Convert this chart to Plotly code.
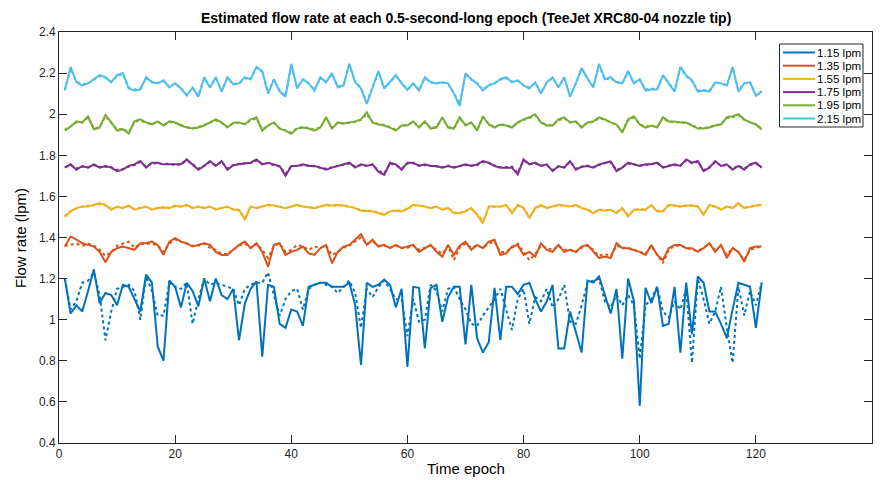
import plotly.graph_objects as go

epochs = list(range(1, 122))

labels = ["1.15 lpm", "1.35 lpm", "1.55 lpm", "1.75 lpm", "1.95 lpm", "2.15 lpm"]
colors = ["#0072BD", "#D95319", "#EDB120", "#7E2F8E", "#77AC30", "#4DBEEE"]

blue_est = [1.20, 1.03, 1.07, 1.04, 1.14, 1.245, 1.08, 1.13, 1.12, 1.07,
            1.17, 1.16, 1.10, 1.04, 1.22, 1.18, 0.87, 0.80, 1.19, 1.16,
            1.06, 1.18, 1.14, 1.065, 1.20, 1.09, 1.20, 1.12, 1.10, 1.15,
            0.90, 1.08, 1.15, 1.187, 0.82, 1.17, 1.16, 0.98, 0.96, 1.05,
            1.04, 0.97, 1.16, 1.17, 1.18, 1.18, 1.16, 1.16, 1.16, 1.18,
            1.07, 0.78, 1.18, 1.16, 1.17, 1.195, 1.17, 1.06, 1.15, 0.77,
            1.16, 1.155, 0.86, 1.155, 1.17, 0.99, 1.11, 1.16, 1.16, 0.88,
            1.17, 0.91, 0.84, 0.89, 1.155, 0.90, 1.16, 1.16, 1.125, 1.17,
            1.18, 1.10, 1.04, 1.09, 1.17, 0.86, 0.86, 1.04, 0.94, 0.84,
            1.19, 1.18, 1.21, 1.12, 1.03, 1.15, 0.81, 1.20, 1.09, 0.58,
            1.155, 1.08, 1.16, 0.97, 0.98, 1.16, 0.84, 1.18, 0.93, 1.21,
            1.18, 1.04, 1.04, 0.98, 0.91, 1.05, 1.18, 1.17, 1.16, 0.96, 1.18]
blue_ref = [1.20, 1.05, 1.09, 1.18, 1.19, 1.23, 1.12, 0.90, 1.04, 1.15,
            1.16, 1.17, 1.14, 1.00, 1.21, 1.14, 1.02, 1.02, 1.18, 1.16,
            1.15, 1.18, 0.98, 1.10, 1.20, 1.17, 1.18, 1.17, 1.16, 1.15,
            1.07, 1.15, 1.17, 1.18, 1.18, 1.23, 1.12, 1.02, 1.10, 1.14,
            1.15, 1.05, 1.15, 1.17, 1.18, 1.17, 1.16, 1.13, 1.16, 1.19,
            1.13, 0.96, 1.15, 1.11, 1.16, 1.19, 1.15, 1.10, 1.10, 0.92,
            1.10, 0.99, 1.00, 1.17, 1.14, 1.04, 1.15, 1.16, 1.10, 1.05,
            0.98, 0.97, 1.02, 1.06, 1.10, 1.15, 1.05, 0.95, 1.10, 1.15,
            0.98, 1.11, 1.09, 1.15, 1.06, 1.10, 1.17, 0.99, 0.98, 1.07,
            1.18, 1.19, 1.20, 1.09, 1.06, 1.12, 1.07, 1.12, 1.07, 0.81,
            1.07, 1.10, 1.16, 1.04, 1.01, 1.09, 1.05, 1.15, 0.79, 1.20,
            1.10, 0.98, 1.04, 1.16, 0.96, 0.79, 1.16, 1.02, 1.14, 1.07, 1.18]

red_est = [1.356, 1.405, 1.39, 1.372, 1.364, 1.356, 1.33, 1.28, 1.33, 1.348,
           1.356, 1.348, 1.34, 1.372, 1.372, 1.38, 1.364, 1.315, 1.38, 1.397,
           1.38, 1.372, 1.356, 1.364, 1.372, 1.364, 1.33, 1.315, 1.315, 1.34,
           1.364, 1.38, 1.348, 1.372, 1.33, 1.258, 1.364, 1.372, 1.315, 1.33,
           1.34, 1.356, 1.323, 1.315, 1.348, 1.364, 1.275, 1.33, 1.356, 1.364,
           1.389, 1.416, 1.364, 1.389, 1.356, 1.364, 1.348, 1.364, 1.348, 1.356,
           1.364, 1.33, 1.348, 1.364, 1.33, 1.307, 1.364, 1.315, 1.36, 1.38,
           1.34, 1.364, 1.348, 1.38, 1.389, 1.315, 1.323, 1.356, 1.364, 1.315,
           1.33, 1.307, 1.372, 1.34, 1.33, 1.364, 1.33, 1.34, 1.33, 1.356,
           1.364, 1.33, 1.30, 1.307, 1.30, 1.372, 1.348, 1.348, 1.34, 1.33,
           1.315, 1.364, 1.315, 1.29, 1.348, 1.364, 1.364, 1.348, 1.348, 1.33,
           1.348, 1.372, 1.33, 1.364, 1.30, 1.348, 1.33, 1.282, 1.348, 1.356, 1.356]
red_ref = [1.36, 1.365, 1.37, 1.36, 1.37, 1.36, 1.34, 1.31, 1.33, 1.36,
           1.37, 1.38, 1.35, 1.37, 1.37, 1.37, 1.36, 1.33, 1.37, 1.39,
           1.38, 1.37, 1.36, 1.36, 1.37, 1.35, 1.34, 1.32, 1.32, 1.34,
           1.36, 1.37, 1.35, 1.37, 1.34, 1.30, 1.36, 1.37, 1.33, 1.34,
           1.364, 1.356, 1.34, 1.356, 1.35, 1.36, 1.315, 1.33, 1.35, 1.36,
           1.38, 1.40, 1.37, 1.38, 1.36, 1.36, 1.35, 1.36, 1.35, 1.35,
           1.36, 1.34, 1.35, 1.36, 1.34, 1.32, 1.36, 1.29, 1.35, 1.37,
           1.35, 1.36, 1.35, 1.37, 1.38, 1.33, 1.33, 1.35, 1.37, 1.33,
           1.29, 1.32, 1.36, 1.35, 1.34, 1.36, 1.34, 1.34, 1.33, 1.35,
           1.36, 1.34, 1.31, 1.32, 1.31, 1.36, 1.35, 1.35, 1.34, 1.33,
           1.32, 1.36, 1.32, 1.275, 1.34, 1.36, 1.36, 1.35, 1.34, 1.335,
           1.35, 1.37, 1.34, 1.36, 1.315, 1.35, 1.33, 1.29, 1.34, 1.35, 1.355]

yellow_est = [1.50, 1.527, 1.543, 1.551, 1.551, 1.559, 1.567, 1.559, 1.535, 1.551,
              1.543, 1.556, 1.535, 1.543, 1.551, 1.535, 1.543, 1.546, 1.543, 1.556,
              1.551, 1.559, 1.543, 1.551, 1.543, 1.551, 1.535, 1.543, 1.551, 1.535,
              1.535, 1.486, 1.551, 1.543, 1.551, 1.559, 1.556, 1.551, 1.543, 1.551,
              1.559, 1.551, 1.546, 1.543, 1.551, 1.559, 1.556, 1.559, 1.556, 1.551,
              1.543, 1.53, 1.527, 1.527, 1.518, 1.51, 1.527, 1.53, 1.527, 1.54,
              1.559, 1.556, 1.551, 1.543, 1.551, 1.535, 1.543, 1.518, 1.518, 1.527,
              1.543, 1.51, 1.47, 1.551, 1.551, 1.551, 1.559, 1.518, 1.559, 1.543,
              1.494, 1.543, 1.559, 1.543, 1.551, 1.559, 1.556, 1.551, 1.559, 1.543,
              1.535, 1.518, 1.535, 1.53, 1.535, 1.518, 1.543, 1.502, 1.535, 1.535,
              1.535, 1.559, 1.527, 1.527, 1.559, 1.556, 1.551, 1.556, 1.556, 1.551,
              1.51, 1.559, 1.551, 1.535, 1.551, 1.543, 1.567, 1.543, 1.551, 1.556, 1.559]
yellow_ref = [1.505, 1.53, 1.54, 1.55, 1.555, 1.56, 1.562, 1.555, 1.54, 1.548,
              1.545, 1.553, 1.538, 1.545, 1.548, 1.538, 1.545, 1.548, 1.545, 1.553,
              1.55, 1.556, 1.545, 1.55, 1.545, 1.55, 1.538, 1.545, 1.548, 1.538,
              1.533, 1.495, 1.548, 1.545, 1.55, 1.556, 1.555, 1.55, 1.545, 1.55,
              1.556, 1.55, 1.548, 1.545, 1.55, 1.556, 1.555, 1.556, 1.555, 1.55,
              1.545, 1.533, 1.53, 1.53, 1.522, 1.515, 1.527, 1.533, 1.53, 1.538,
              1.556, 1.555, 1.55, 1.545, 1.548, 1.538, 1.545, 1.522, 1.52, 1.53,
              1.54, 1.515, 1.48, 1.545, 1.55, 1.55, 1.556, 1.525, 1.555, 1.545,
              1.50, 1.54, 1.556, 1.545, 1.55, 1.556, 1.555, 1.55, 1.556, 1.545,
              1.538, 1.522, 1.535, 1.533, 1.535, 1.522, 1.54, 1.51, 1.535, 1.538,
              1.538, 1.556, 1.53, 1.53, 1.556, 1.555, 1.55, 1.555, 1.555, 1.55,
              1.515, 1.556, 1.55, 1.538, 1.55, 1.545, 1.562, 1.545, 1.55, 1.555, 1.556]

purple_est = [1.74, 1.756, 1.73, 1.748, 1.74, 1.756, 1.74, 1.748, 1.74, 1.723,
              1.73, 1.748, 1.756, 1.772, 1.74, 1.764, 1.764, 1.756, 1.756, 1.756,
              1.756, 1.78, 1.756, 1.73, 1.748, 1.772, 1.748, 1.772, 1.73, 1.752,
              1.756, 1.76, 1.764, 1.78, 1.756, 1.764, 1.756, 1.748, 1.70, 1.748,
              1.748, 1.756, 1.748, 1.748, 1.74, 1.73, 1.74, 1.748, 1.756, 1.764,
              1.74, 1.756, 1.748, 1.756, 1.72, 1.705, 1.764, 1.756, 1.73, 1.764,
              1.764, 1.748, 1.756, 1.748, 1.748, 1.74, 1.748, 1.74, 1.748, 1.756,
              1.748, 1.756, 1.772, 1.764, 1.748, 1.74, 1.74, 1.74, 1.707, 1.78,
              1.756, 1.764, 1.748, 1.756, 1.723, 1.748, 1.74, 1.772, 1.73, 1.744,
              1.748, 1.74, 1.756, 1.764, 1.77, 1.723, 1.74, 1.764, 1.756, 1.748,
              1.756, 1.756, 1.764, 1.74, 1.748, 1.756, 1.748, 1.78, 1.764, 1.772,
              1.723, 1.74, 1.772, 1.748, 1.756, 1.73, 1.748, 1.73, 1.756, 1.764, 1.74]
purple_ref = [1.742, 1.752, 1.735, 1.745, 1.742, 1.752, 1.742, 1.745, 1.742, 1.728,
              1.733, 1.745, 1.752, 1.768, 1.745, 1.76, 1.762, 1.756, 1.76, 1.752,
              1.756, 1.775, 1.758, 1.735, 1.748, 1.768, 1.75, 1.768, 1.735, 1.752,
              1.758, 1.762, 1.762, 1.775, 1.758, 1.762, 1.752, 1.745, 1.71, 1.745,
              1.75, 1.752, 1.75, 1.745, 1.742, 1.735, 1.742, 1.748, 1.752, 1.76,
              1.745, 1.752, 1.75, 1.755, 1.725, 1.712, 1.76, 1.752, 1.735, 1.76,
              1.762, 1.75, 1.752, 1.75, 1.745, 1.742, 1.75, 1.742, 1.748, 1.752,
              1.75, 1.752, 1.768, 1.762, 1.75, 1.742, 1.742, 1.745, 1.715, 1.775,
              1.758, 1.76, 1.75, 1.752, 1.728, 1.745, 1.742, 1.768, 1.735, 1.745,
              1.75, 1.742, 1.752, 1.762, 1.766, 1.728, 1.742, 1.76, 1.756, 1.75,
              1.752, 1.758, 1.762, 1.742, 1.75, 1.752, 1.75, 1.775, 1.762, 1.768,
              1.728, 1.742, 1.768, 1.75, 1.752, 1.735, 1.75, 1.735, 1.752, 1.76, 1.742]

green_est = [1.92, 1.94, 1.965, 1.96, 1.99, 1.927, 1.935, 1.997, 1.96, 1.92,
             1.927, 1.906, 1.965, 1.975, 1.96, 1.95, 1.965, 1.945, 1.965, 1.96,
             1.945, 1.935, 1.93, 1.935, 1.945, 1.96, 1.975, 1.96, 1.935, 1.958,
             1.96, 1.95, 1.975, 1.985, 1.92, 1.945, 1.96, 1.93, 1.92, 1.905,
             1.93, 1.935, 1.93, 1.92, 1.935, 1.985, 1.93, 1.96, 1.955, 1.96,
             1.965, 1.975, 2.01, 1.96, 1.95, 1.945, 1.935, 1.92, 1.945, 1.945,
             1.965, 1.935, 1.965, 1.93, 1.935, 1.985, 1.935, 1.93, 1.985, 1.945,
             1.96, 1.92, 1.99, 1.95, 1.935, 1.95, 1.945, 1.935, 1.96, 1.975,
             1.985, 2.0, 1.96, 1.945, 1.945, 1.975, 1.985, 1.96, 1.965, 1.935,
             1.96, 1.965, 1.985, 1.975, 1.96, 1.95, 1.91, 1.975, 1.99, 1.95,
             1.935, 1.945, 1.935, 1.985, 1.965, 1.965, 1.96, 1.96, 1.945, 1.93,
             1.93, 1.935, 1.945, 1.95, 1.985, 1.99, 2.0, 1.975, 1.96, 1.95, 1.925]
green_ref = [1.925, 1.94, 1.96, 1.958, 1.985, 1.93, 1.938, 1.99, 1.958, 1.925,
             1.93, 1.912, 1.962, 1.97, 1.958, 1.952, 1.962, 1.948, 1.962, 1.958,
             1.948, 1.938, 1.932, 1.938, 1.948, 1.958, 1.97, 1.958, 1.938, 1.955,
             1.958, 1.952, 1.97, 1.98, 1.925, 1.945, 1.958, 1.932, 1.922, 1.91,
             1.932, 1.938, 1.932, 1.925, 1.938, 1.98, 1.935, 1.958, 1.955, 1.958,
             1.962, 1.972, 2.0, 1.96, 1.952, 1.948, 1.938, 1.925, 1.945, 1.948,
             1.962, 1.938, 1.96, 1.935, 1.938, 1.98, 1.938, 1.932, 1.98, 1.948,
             1.958, 1.925, 1.985, 1.952, 1.938, 1.95, 1.948, 1.938, 1.958, 1.972,
             1.98, 1.995, 1.96, 1.948, 1.948, 1.97, 1.98, 1.96, 1.962, 1.938,
             1.958, 1.962, 1.98, 1.972, 1.96, 1.95, 1.918, 1.97, 1.985, 1.952,
             1.938, 1.945, 1.938, 1.98, 1.962, 1.962, 1.96, 1.958, 1.948, 1.935,
             1.932, 1.938, 1.945, 1.952, 1.98, 1.985, 1.995, 1.972, 1.96, 1.952, 1.93]

cyan_est = [2.115, 2.23, 2.155, 2.14, 2.15, 2.17, 2.19, 2.18, 2.155, 2.19,
            2.2, 2.125, 2.115, 2.12, 2.18, 2.155, 2.15, 2.165, 2.13, 2.15,
            2.125, 2.09, 2.13, 2.085, 2.18, 2.13, 2.18, 2.11, 2.18, 2.145,
            2.15, 2.18, 2.17, 2.23, 2.21, 2.1, 2.17, 2.11, 2.085, 2.245,
            2.125, 2.17, 2.15, 2.115, 2.18, 2.155, 2.2, 2.13, 2.14, 2.245,
            2.155, 2.125, 2.05, 2.13, 2.21, 2.125, 2.155, 2.19, 2.15, 2.118,
            2.15, 2.115, 2.18, 2.155, 2.15, 2.155, 2.15, 2.1, 2.04, 2.2,
            2.17, 2.15, 2.115, 2.14, 2.15, 2.17, 2.18, 2.155, 2.165, 2.14,
            2.125, 2.155, 2.1, 2.155, 2.18, 2.13, 2.18, 2.085, 2.15, 2.225,
            2.175, 2.13, 2.245, 2.17, 2.18, 2.155, 2.15, 2.21, 2.15, 2.17,
            2.115, 2.12, 2.12, 2.19, 2.15, 2.11, 2.23, 2.19, 2.165, 2.11,
            2.115, 2.11, 2.155, 2.15, 2.14, 2.23, 2.11, 2.15, 2.155, 2.09, 2.11]
cyan_ref = [2.12, 2.22, 2.16, 2.145, 2.15, 2.168, 2.185, 2.178, 2.158, 2.185,
            2.195, 2.13, 2.12, 2.125, 2.175, 2.158, 2.152, 2.162, 2.135, 2.15,
            2.128, 2.095, 2.128, 2.09, 2.175, 2.135, 2.175, 2.115, 2.175, 2.148,
            2.15, 2.175, 2.17, 2.225, 2.205, 2.105, 2.168, 2.115, 2.09, 2.238,
            2.13, 2.168, 2.15, 2.12, 2.175, 2.158, 2.195, 2.135, 2.142, 2.238,
            2.158, 2.128, 2.06, 2.132, 2.205, 2.13, 2.155, 2.185, 2.15, 2.12,
            2.148, 2.12, 2.175, 2.155, 2.152, 2.155, 2.148, 2.105, 2.05, 2.195,
            2.168, 2.15, 2.12, 2.142, 2.15, 2.168, 2.175, 2.158, 2.162, 2.142,
            2.13, 2.152, 2.105, 2.155, 2.175, 2.135, 2.175, 2.09, 2.15, 2.22,
            2.172, 2.135, 2.238, 2.168, 2.175, 2.158, 2.152, 2.205, 2.152, 2.168,
            2.12, 2.125, 2.122, 2.185, 2.152, 2.115, 2.225, 2.185, 2.162, 2.115,
            2.118, 2.115, 2.152, 2.15, 2.142, 2.225, 2.115, 2.15, 2.155, 2.095, 2.112]

estimated = [blue_est, red_est, yellow_est, purple_est, green_est, cyan_est]
reference = [blue_ref, red_ref, yellow_ref, purple_ref, green_ref, cyan_ref]

x_ticks = [0, 20, 40, 60, 80, 100, 120, 140]
y_ticks = [0.4, 0.6, 0.8, 1.0, 1.2, 1.4, 1.6, 1.8, 2.0, 2.2, 2.4]
y_tick_text = ["0.4", "0.6", "0.8", "1", "1.2", "1.4", "1.6", "1.8", "2", "2.2", "2.4"]

title_text = "Estimated flow rate at each 0.5-second-long epoch (TeeJet XRC80-04 nozzle tip)"
x_title = "Time epoch"
y_title = "Flow rate (lpm)"

# ---- layout geometry (pixels) ----
W, H = 882, 480
L, R, T, B = 59, 10, 32, 37
PW, PH = W - L - R, H - T - B


def px(xp):
    return (xp - L) / PW


def py(yp):
    return (H - B - yp) / PH


fig = go.Figure()
for lab, col, ref in zip(labels, colors, reference):
    fig.add_trace(go.Scatter(x=epochs, y=ref, mode="lines", name=lab + " (dotted)",
                             showlegend=False,
                             line=dict(color=col, width=2, dash="dot")))
for lab, col, est in zip(labels, colors, estimated):
    fig.add_trace(go.Scatter(x=epochs, y=est, mode="lines", name=lab,
                             showlegend=False, line=dict(color=col, width=2)))

font_family = "Liberation Sans, Arial, sans-serif"
shapes = []
annotations = []

# custom compact legend (MATLAB style)
shapes.append(dict(type="rect", xref="paper", yref="paper",
                   x0=px(779.5), x1=px(863), y0=py(127), y1=py(44),
                   line=dict(color="#262626", width=1), fillcolor="white", layer="above"))
row_y = [52.5, 65.7, 78.9, 92.1, 105.3, 118.5]
for lab, col, ry in zip(labels, colors, row_y):
    shapes.append(dict(type="line", xref="paper", yref="paper",
                       x0=px(783), x1=px(815), y0=py(ry), y1=py(ry),
                       line=dict(color=col, width=2), layer="above"))
    annotations.append(dict(text=lab, xref="paper", yref="paper", x=px(816), y=py(ry),
                            xanchor="left", yanchor="middle", showarrow=False,
                            borderpad=0, height=12,
                            font=dict(family=font_family, size=11.5, color="black")))

annotations.append(dict(text="<b>" + title_text + "</b>", xref="paper", yref="paper",
                        x=0.5, y=py(18), xanchor="center", yanchor="middle", showarrow=False,
                        font=dict(family=font_family, size=14, color="black")))
annotations.append(dict(text=x_title, xref="paper", yref="paper",
                        x=0.5, y=py(469), xanchor="center", yanchor="middle", showarrow=False,
                        font=dict(family=font_family, size=15, color="black")))
annotations.append(dict(text=y_title, xref="paper", yref="paper",
                        x=px(20), y=py(238), xanchor="center", yanchor="middle", showarrow=False,
                        textangle=-90,
                        font=dict(family=font_family, size=15, color="black")))

fig.update_layout(
    width=W, height=H,
    margin=dict(l=L, r=R, t=T, b=B, autoexpand=False),
    paper_bgcolor="white", plot_bgcolor="white",
    font=dict(family=font_family, size=12, color="#262626"),
    showlegend=False,
    shapes=shapes,
    annotations=annotations,
)
fig.update_xaxes(range=[0, 140], tickvals=x_ticks, showgrid=False, zeroline=False,
                 showline=True, linecolor="#262626", linewidth=1, mirror="ticks",
                 ticks="inside", ticklen=8, tickcolor="#262626", automargin=False,
                 tickfont=dict(size=12, color="#262626"))
fig.update_yaxes(range=[0.4, 2.4], tickvals=y_ticks, ticktext=y_tick_text, showgrid=False,
                 zeroline=False, showline=True, linecolor="#262626", linewidth=1,
                 mirror="ticks", ticks="inside", ticklen=8, tickcolor="#262626",
                 automargin=False, tickfont=dict(size=12, color="#262626"))

fig.write_html("out.html", config={"displayModeBar": False},
               post_script="document.body.style.margin='0';document.body.style.overflow='hidden';")
